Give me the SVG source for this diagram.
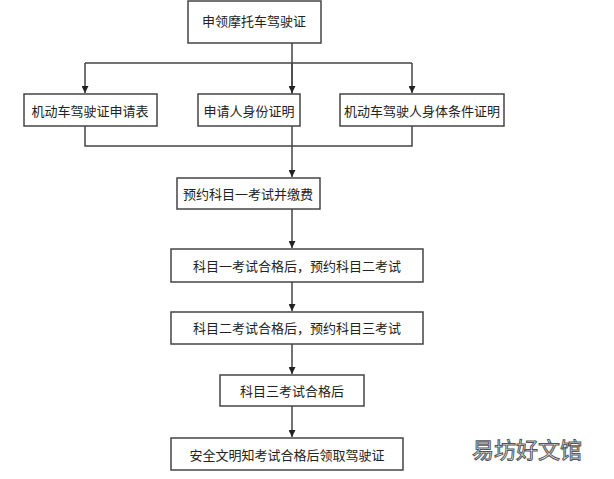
<svg xmlns="http://www.w3.org/2000/svg" width="614" height="479" viewBox="0 0 614 479">
<style>
.b{fill:#fff;stroke:#444;stroke-width:1.5}
.t{font-family:"Noto Sans CJK SC",sans-serif;font-size:13px;fill:#222;text-anchor:middle;dominant-baseline:central}
.c{fill:none;stroke:#444;stroke-width:1.5}
.w{font-family:"Noto Sans CJK SC",sans-serif;font-size:22px;fill:#fff;stroke:#555;stroke-width:1;text-anchor:middle;dominant-baseline:central}
</style>
<defs><marker id="a" viewBox="0 0 10 10" refX="10" refY="5" markerWidth="7" markerHeight="7" orient="auto" markerUnits="userSpaceOnUse"><path d="M0,0L10,5L0,10z" fill="#222"/></marker></defs>
<rect width="614" height="479" fill="#fff"/>
<g id="connectors">
<path class="c" d="M292,43V146M85,63H412"/>
<path class="c" d="M85,63V93" marker-end="url(#a)"/>
<path class="c" d="M292,63V93" marker-end="url(#a)"/>
<path class="c" d="M412,63V93" marker-end="url(#a)"/>
<path class="c" d="M85,126V146H412V126"/>
<path class="c" d="M292,146V177" marker-end="url(#a)"/>
<path class="c" d="M292,209V248" marker-end="url(#a)"/>
<path class="c" d="M292,282V311" marker-end="url(#a)"/>
<path class="c" d="M292,344V374" marker-end="url(#a)"/>
<path class="c" d="M292,406V437" marker-end="url(#a)"/>
</g>
<g id="n1"><rect class="b" x="188" y="1" width="133" height="42"/><text class="t" x="254" y="20">申领摩托车驾驶证</text></g>
<g id="n2"><rect class="b" x="24" y="94" width="133" height="32"/><text class="t" x="90" y="110">机动车驾驶证申请表</text></g>
<g id="n3"><rect class="b" x="198" y="94" width="102" height="32"/><text class="t" x="249" y="110">申请人身份证明</text></g>
<g id="n4"><rect class="b" x="340" y="94" width="164" height="32"/><text class="t" x="422" y="110">机动车驾驶人身体条件证明</text></g>
<g id="n5"><rect class="b" x="177" y="178" width="143" height="31"/><text class="t" x="248" y="193">预约科目一考试并缴费</text></g>
<g id="n6"><rect class="b" x="171" y="249" width="252" height="33"/><text class="t" x="297" y="265">科目一考试合格后，预约科目二考试</text></g>
<g id="n7"><rect class="b" x="171" y="312" width="252" height="32"/><text class="t" x="297" y="327">科目二考试合格后，预约科目三考试</text></g>
<g id="n8"><rect class="b" x="220" y="375" width="144" height="31"/><text class="t" x="292" y="390">科目三考试合格后</text></g>
<g id="n9"><rect class="b" x="171" y="438" width="232" height="32"/><text class="t" x="287" y="454">安全文明知考试合格后领取驾驶证</text></g>
<text class="w" x="527" y="448">易坊好文馆</text>
</svg>
